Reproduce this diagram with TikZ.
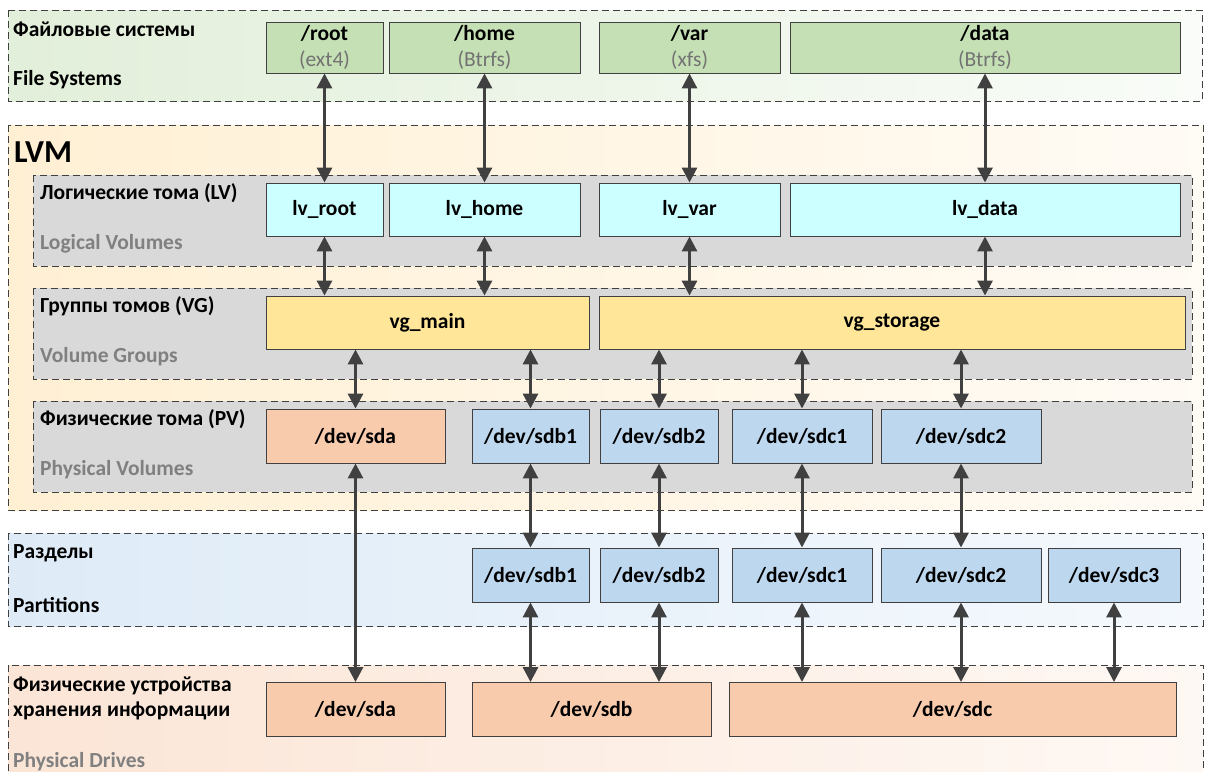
\documentclass[tikz,border=0pt]{standalone}
\usepackage{fontspec}
\setmainfont{Carlito}
\usepackage{xcolor}
\usetikzlibrary{arrows.meta, positioning}

\definecolor{fsgreen}{HTML}{C5E0B4}
\definecolor{lvcyan}{HTML}{CCFFFF}
\definecolor{vgyellow}{HTML}{FFE699}
\definecolor{devpeach}{HTML}{F8CBAD}
\definecolor{devblue}{HTML}{BDD7EE}
\definecolor{linegray}{HTML}{404040}
\definecolor{layergray}{HTML}{D9D9D9}
\definecolor{fsleft}{HTML}{E2EFDA}
\definecolor{fsright}{HTML}{F9FCF8}
\definecolor{lvmleft}{HTML}{FFF0D4}
\definecolor{lvmright}{HTML}{FFFBF5}
\definecolor{partleft}{HTML}{DEEBF7}
\definecolor{partright}{HTML}{F5F9FD}
\definecolor{drvleft}{HTML}{FBE5D6}
\definecolor{drvright}{HTML}{FEF8F4}

\newcommand{\fstype}[1]{{\mdseries\color{black!55}#1}}

\tikzset{
  layer/.style={draw=linegray, dash pattern=on 7pt off 4pt, line width=0.8pt},
  caption/.style={anchor=west, inner sep=0pt, align=left, font=\bfseries\fontsize{21.5}{25}\selectfont},
  subcaption/.style={caption, text=black!50},
  dev/.style={draw=linegray, line width=0.9pt, inner sep=0pt, align=center, font=\bfseries\fontsize{21.5}{26}\selectfont},
  fsbox/.style={dev, fill=fsgreen, minimum height=51pt},
  lvbox/.style={dev, fill=lvcyan, minimum height=53pt},
  vgbox/.style={dev, fill=vgyellow, minimum height=53pt},
  peachbox/.style={dev, fill=devpeach, minimum height=54pt},
  bluebox/.style={dev, fill=devblue, minimum height=54pt},
  link/.style={{Triangle[length=15pt,width=15pt]}-{Triangle[length=15pt,width=15pt]}, draw=linegray, line width=3pt},
}

\begin{document}
\begin{tikzpicture}[x=1pt, y=-1pt]
  \clip (0,0) rectangle (1206,771);

  % layers
  \draw[layer, left color=fsleft, right color=fsright] (8,10) rectangle (1202,101);
  \draw[layer, left color=lvmleft, right color=lvmright] (8,125) rectangle (1203,510);
  \draw[layer, fill=layergray] (33,175) rectangle (1192,266);
  \draw[layer, fill=layergray] (33,288) rectangle (1192,379);
  \draw[layer, fill=layergray] (33,401) rectangle (1192,492);
  \draw[layer, left color=partleft, right color=partright] (8,533) rectangle (1203,626);
  \draw[layer, left color=drvleft, right color=drvright] (8,665) rectangle (1203,790);

  % layer titles
  \node[caption] (fs-ru) at (13,29) {Файловые системы};
  \node[caption] (fs-en) at (13,80) {File Systems};
  \node[caption, font=\bfseries\fontsize{32}{36}\selectfont] (lvm) at (14,152) {LVM};
  \node[caption] (lv-ru) at (40,193) {Логические тома (LV)};
  \node[subcaption] (lv-en) at (40,244) {Logical Volumes};
  \node[caption] (vg-ru) at (40,306) {Группы томов (VG)};
  \node[subcaption] (vg-en) at (40,357) {Volume Groups};
  \node[caption] (pv-ru) at (40,419) {Физические тома (PV)};
  \node[subcaption] (pv-en) at (40,470) {Physical Volumes};
  \node[caption] (part-ru) at (13,553) {Разделы};
  \node[caption] (part-en) at (13,605) {Partitions};
  \node[caption] (drv-ru) at (13,698) {Физические устройства\\хранения информации};
  \node[subcaption] (drv-en) at (13,762) {Physical Drives};

  % file systems
  \node[fsbox, minimum width=117pt] (fs-root) at (324.5,47.5) {/root\\\fstype{(ext4)}};
  \node[fsbox, minimum width=191pt] (fs-home) at (484.5,47.5) {/home\\\fstype{(Btrfs)}};
  \node[fsbox, minimum width=181pt] (fs-var) at (689.5,47.5) {/var\\\fstype{(xfs)}};
  \node[fsbox, minimum width=390pt] (fs-data) at (985,47.5) {/data\\\fstype{(Btrfs)}};

  % logical volumes
  \node[lvbox, minimum width=117pt] (lv-root) at (324.5,209.5) {lv\_root};
  \node[lvbox, minimum width=191pt] (lv-home) at (484.5,209.5) {lv\_home};
  \node[lvbox, minimum width=181pt] (lv-var) at (689.5,209.5) {lv\_var};
  \node[lvbox, minimum width=390pt] (lv-data) at (985,209.5) {lv\_data};

  % volume groups
  \node[vgbox, minimum width=323pt] (vg-main) at (427.5,322.5) {vg\_main};
  \node[vgbox, minimum width=586pt] (vg-storage) at (892,322.5) {vg\_storage};

  % physical volumes
  \node[peachbox, minimum width=179pt] (pv-sda) at (355.5,436) {/dev/sda};
  \node[bluebox, minimum width=117pt] (pv-sdb1) at (530.5,436) {/dev/sdb1};
  \node[bluebox, minimum width=118pt] (pv-sdb2) at (659,436) {/dev/sdb2};
  \node[bluebox, minimum width=140pt] (pv-sdc1) at (802,436) {/dev/sdc1};
  \node[bluebox, minimum width=160pt] (pv-sdc2) at (961,436) {/dev/sdc2};

  % partitions
  \node[bluebox, minimum width=117pt] (part-sdb1) at (530.5,575) {/dev/sdb1};
  \node[bluebox, minimum width=118pt] (part-sdb2) at (659,575) {/dev/sdb2};
  \node[bluebox, minimum width=140pt] (part-sdc1) at (802,575) {/dev/sdc1};
  \node[bluebox, minimum width=160pt] (part-sdc2) at (961,575) {/dev/sdc2};
  \node[bluebox, minimum width=132pt] (part-sdc3) at (1114,575) {/dev/sdc3};

  % drives
  \node[peachbox, minimum width=179pt] (drv-sda) at (355.5,709.5) {/dev/sda};
  \node[peachbox, minimum width=239pt] (drv-sdb) at (591.5,709.5) {/dev/sdb};
  \node[peachbox, minimum width=447pt] (drv-sdc) at (952.5,709.5) {/dev/sdc};

  % fs <-> lv
  \draw[link] (fs-root) -- (lv-root);
  \draw[link] (fs-home) -- (lv-home);
  \draw[link] (fs-var) -- (lv-var);
  \draw[link] (fs-data) -- (lv-data);

  % lv <-> vg
  \draw[link] (lv-root.south) -- (lv-root.south |- vg-main.north);
  \draw[link] (lv-home.south) -- (lv-home.south |- vg-main.north);
  \draw[link] (lv-var.south) -- (lv-var.south |- vg-storage.north);
  \draw[link] (lv-data.south) -- (lv-data.south |- vg-storage.north);

  % vg <-> pv
  \draw[link] (pv-sda.north |- vg-main.south) -- (pv-sda.north);
  \draw[link] (pv-sdb1.north |- vg-main.south) -- (pv-sdb1.north);
  \draw[link] (pv-sdb2.north |- vg-storage.south) -- (pv-sdb2.north);
  \draw[link] (pv-sdc1.north |- vg-storage.south) -- (pv-sdc1.north);
  \draw[link] (pv-sdc2.north |- vg-storage.south) -- (pv-sdc2.north);

  % pv <-> partitions / drives
  \draw[link] (pv-sda) -- (drv-sda);
  \draw[link] (pv-sdb1) -- (part-sdb1);
  \draw[link] (pv-sdb2) -- (part-sdb2);
  \draw[link] (pv-sdc1) -- (part-sdc1);
  \draw[link] (pv-sdc2) -- (part-sdc2);

  % partitions <-> drives
  \draw[link] (part-sdb1.south) -- (part-sdb1.south |- drv-sdb.north);
  \draw[link] (part-sdb2.south) -- (part-sdb2.south |- drv-sdb.north);
  \draw[link] (part-sdc1.south) -- (part-sdc1.south |- drv-sdc.north);
  \draw[link] (part-sdc2.south) -- (part-sdc2.south |- drv-sdc.north);
  \draw[link] (part-sdc3.south) -- (part-sdc3.south |- drv-sdc.north);
\end{tikzpicture}
\end{document}
